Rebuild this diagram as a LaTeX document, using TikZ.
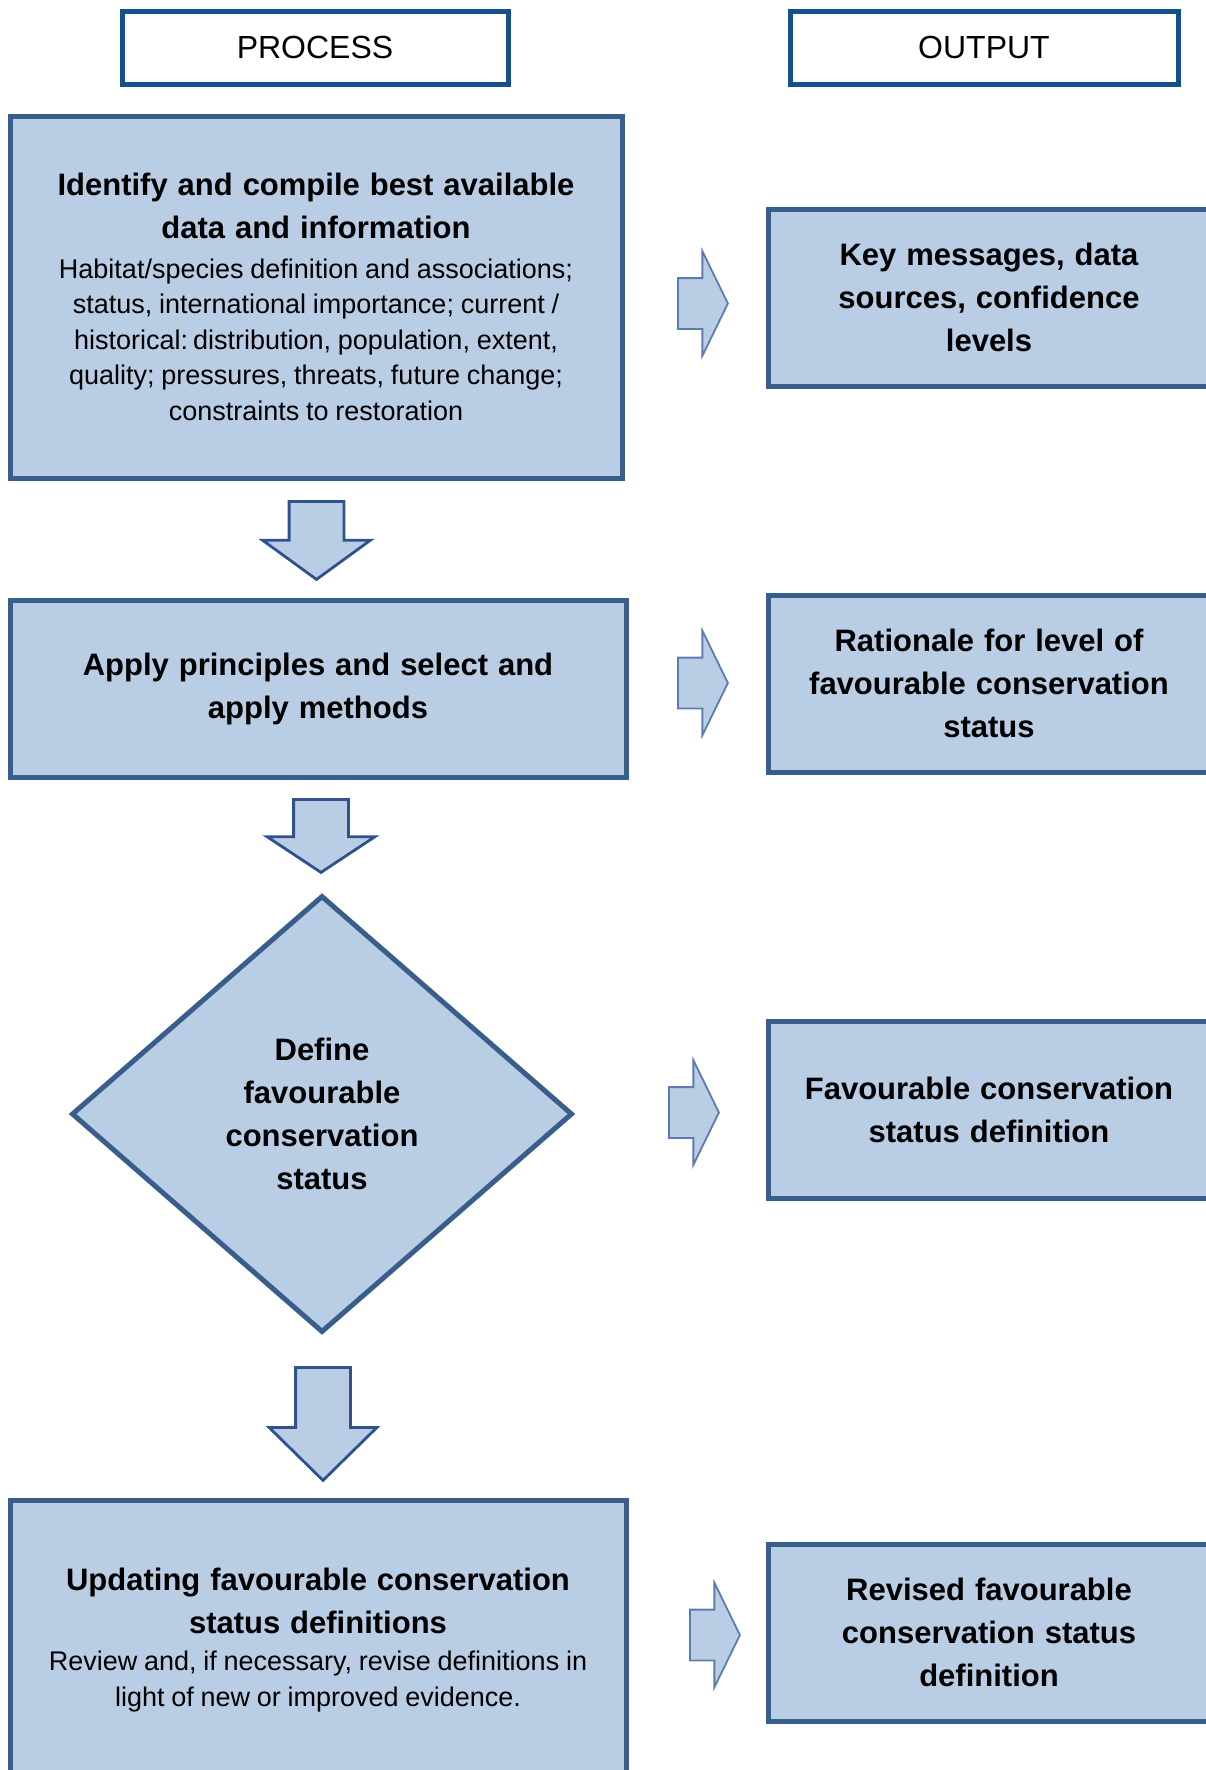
\documentclass[tikz,border=0pt]{standalone}
\usepackage{fontspec}
\setmainfont{Liberation Sans}
\usetikzlibrary{shapes.geometric,shapes.arrows}

\definecolor{boxfill}{RGB}{185,205,229}
\definecolor{boxline}{RGB}{58,94,140}
\definecolor{headline}{RGB}{20,80,140}
\definecolor{arrowline}{RGB}{47,82,143}
\definecolor{sidearrowline}{RGB}{90,124,178}

\newcommand{\hdfont}{\fontsize{31}{43}\selectfont\bfseries\spaceskip=0.32em\relax}
\newcommand{\txfont}{\fontsize{27}{35.5}\selectfont\mdseries\spaceskip=0.25em\relax}

\tikzset{
	headbox/.style={draw=headline, line width=5pt, fill=white, minimum height=73pt, inner sep=0pt, font=\fontsize{32}{38}\selectfont},
	stepbox/.style={draw=boxline, line width=5pt, fill=boxfill, inner sep=0pt, align=center},
	outbox/.style={stepbox, minimum width=442pt, minimum height=177pt, text width=430pt},
	downarrow/.style={single arrow, draw=arrowline, line width=2.8pt, fill=boxfill, rotate=-90, anchor=tail, inner xsep=0pt, inner ysep=26pt, single arrow head extend=26.5pt},
	sidearrow/.style={single arrow, draw=sidearrowline, line width=1.8pt, fill=boxfill, anchor=tail, inner xsep=0pt, inner ysep=24.5pt, single arrow head extend=27pt, single arrow tip angle=128, minimum height=50pt},
}

\begin{document}
\begin{tikzpicture}[x=1pt,y=-1pt]
	\useasboundingbox (0,0) rectangle (1206,1770);
	\clip (0,0) rectangle (1206,1770);

	% column headers
	\node[headbox, minimum width=386pt] (process) at (315,47.5) {PROCESS};
	\node[headbox, minimum width=388pt] (output) at (984,47.5) {OUTPUT};

	% process column
	\node[stepbox, minimum width=612pt, minimum height=362pt, text width=600pt] (compile) at (316,297)
		{\hdfont Identify and compile best available\\ data and information\par\vspace{4pt}
		 \txfont Habitat/species definition and associations;\\ status, international importance; current /\\ historical: distribution, population, extent,\\ quality; pressures, threats, future change;\\ constraints to restoration\par};
	\node[stepbox, minimum width=616pt, minimum height=177pt, text width=600pt] (methods) at (318,688.5)
		{\hdfont Apply principles and select and\\ apply methods\par};
	\node[stepbox, diamond, minimum width=501pt, minimum height=437pt, text width=260pt] (define) at (322,1114)
		{\hdfont Define\\ favourable\\ conservation\\ status\par};
	\node[stepbox, minimum width=616pt, minimum height=280pt, text width=600pt] (update) at (318,1640)
		{\hdfont Updating favourable conservation\\ status definitions\par\vspace{2pt}
		 \txfont Review and, if necessary, revise definitions in\\ light of new or improved evidence.\par};

	% output column
	\node[outbox] (messages) at (989,297.5) {\hdfont Key messages, data\\ sources, confidence\\ levels\par};
	\node[outbox] (rationale) at (989,683.5) {\hdfont Rationale for level of\\ favourable conservation\\ status\par};
	\node[outbox] (fcsdef) at (989,1110) {\hdfont Favourable conservation\\ status definition\par};
	\node[outbox] (revised) at (989,1632.5) {\hdfont Revised favourable\\ conservation status\\ definition\par};

	% block arrows down
	\node[downarrow, minimum height=78pt, single arrow tip angle=108] (d1) at (316.5,500) {};
	\node[downarrow, minimum height=73pt, single arrow tip angle=113] (d2) at (321,798) {};
	\node[downarrow, minimum height=113pt, single arrow tip angle=91] (d3) at (323,1366) {};

	% block arrows across
	\node[sidearrow] (r1) at (677,303.5) {};
	\node[sidearrow] (r2) at (677,683) {};
	\node[sidearrow] (r3) at (668,1112.5) {};
	\node[sidearrow] (r4) at (689,1635) {};
\end{tikzpicture}
\end{document}
